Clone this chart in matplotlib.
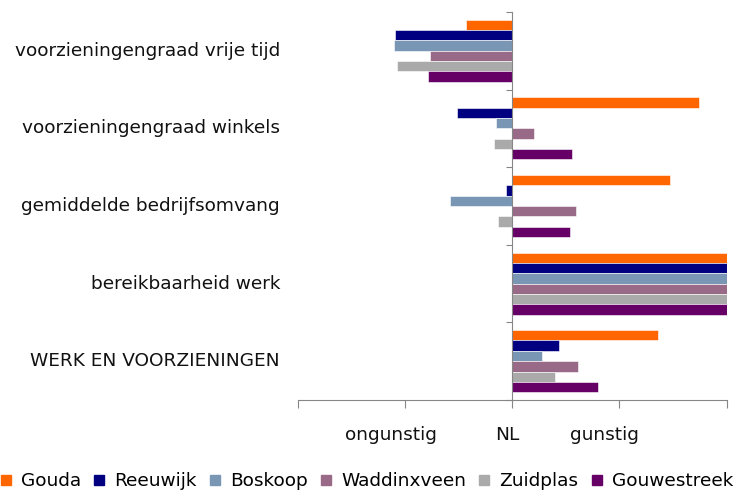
import matplotlib.pyplot as plt
import matplotlib.transforms as mtransforms
from matplotlib.lines import Line2D
import numpy as np

# categories, top to bottom
categories = ['voorzieningengraad vrije tijd', 'voorzieningengraad winkels',
              'gemiddelde bedrijfsomvang', 'bereikbaarheid werk',
              'WERK EN VOORZIENINGEN']

gouda = [-0.43, 1.74, 1.47, 2.0, 1.36]
reeuwijk = [-1.095, -0.52, -0.06, 2.0, 0.44]
boskoop = [-1.10, -0.15, -0.585, 2.0, 0.28]
waddinxveen = [-0.765, 0.20, 0.59, 2.0, 0.61]
zuidplas = [-1.075, -0.17, -0.13, 2.0, 0.40]
gouwestreek = [-0.79, 0.56, 0.535, 2.0, 0.80]

series = [('Gouda', gouda, '#FF6600'),
          ('Reeuwijk', reeuwijk, '#000080'),
          ('Boskoop', boskoop, '#7A96B5'),
          ('Waddinxveen', waddinxveen, '#996A87'),
          ('Zuidplas', zuidplas, '#AAAAAA'),
          ('Gouwestreek', gouwestreek, '#660066')]

axis_labels = ['ongunstig', 'NL', 'gunstig']
axis_label_pos = [-1.13, -0.05, 0.86]

plt.rcParams['font.family'] = 'DejaVu Sans'
fs = 13.3
fig = plt.figure(figsize=(7.34, 4.9), dpi=100)
ax = fig.add_axes([0.406, 0.1837, 0.584, 0.7918])

y = np.arange(len(categories))
h = 0.8 / len(series)
for i, (name, vals, col) in enumerate(series):
    ax.barh(y - 0.4 + h * (i + 0.5), vals, height=h, color=col,
            edgecolor='white', linewidth=0.4, label=name)

ax.set_xlim(-2, 2)
ax.set_ylim(len(categories) - 0.5, -0.5)

grey = '#868686'
for s in ['top', 'right']:
    ax.spines[s].set_visible(False)
ax.spines['left'].set_position(('data', 0))
ax.spines['left'].set_color(grey)
ax.spines['bottom'].set_color(grey)

ax.set_xticks([-2, -1, 0, 1, 2])
ax.set_xticklabels([])
ax.tick_params(axis='x', direction='out', length=6, color=grey)
ax.set_yticks(np.arange(-0.5, len(categories), 1.0))
ax.set_yticklabels([])
ax.tick_params(axis='y', direction='out', length=4, color=grey)

trans = mtransforms.blended_transform_factory(ax.transAxes, ax.transData)
for yi, cat in zip(y, categories):
    ax.text(-0.042, yi, cat, transform=trans, ha='right', va='center',
            fontsize=fs, color='#111111')

trans2 = mtransforms.blended_transform_factory(ax.transData, ax.transAxes)
for xp, lab in zip(axis_label_pos, axis_labels):
    ax.text(xp, -0.09, lab, transform=trans2, ha='center', va='center',
            fontsize=fs, color='#111111')

handles = [Line2D([], [], marker='s', linestyle='none', markersize=7.5,
                  color=col) for _, _, col in series]
fig.legend(handles, [s[0] for s in series], loc='center', ncol=6,
           bbox_to_anchor=(0.5, 0.018), frameon=False, fontsize=fs,
           handlelength=0.55, handletextpad=0.55, columnspacing=0.7,
           borderpad=0, borderaxespad=0)

fig.savefig('out.png', dpi=100)
